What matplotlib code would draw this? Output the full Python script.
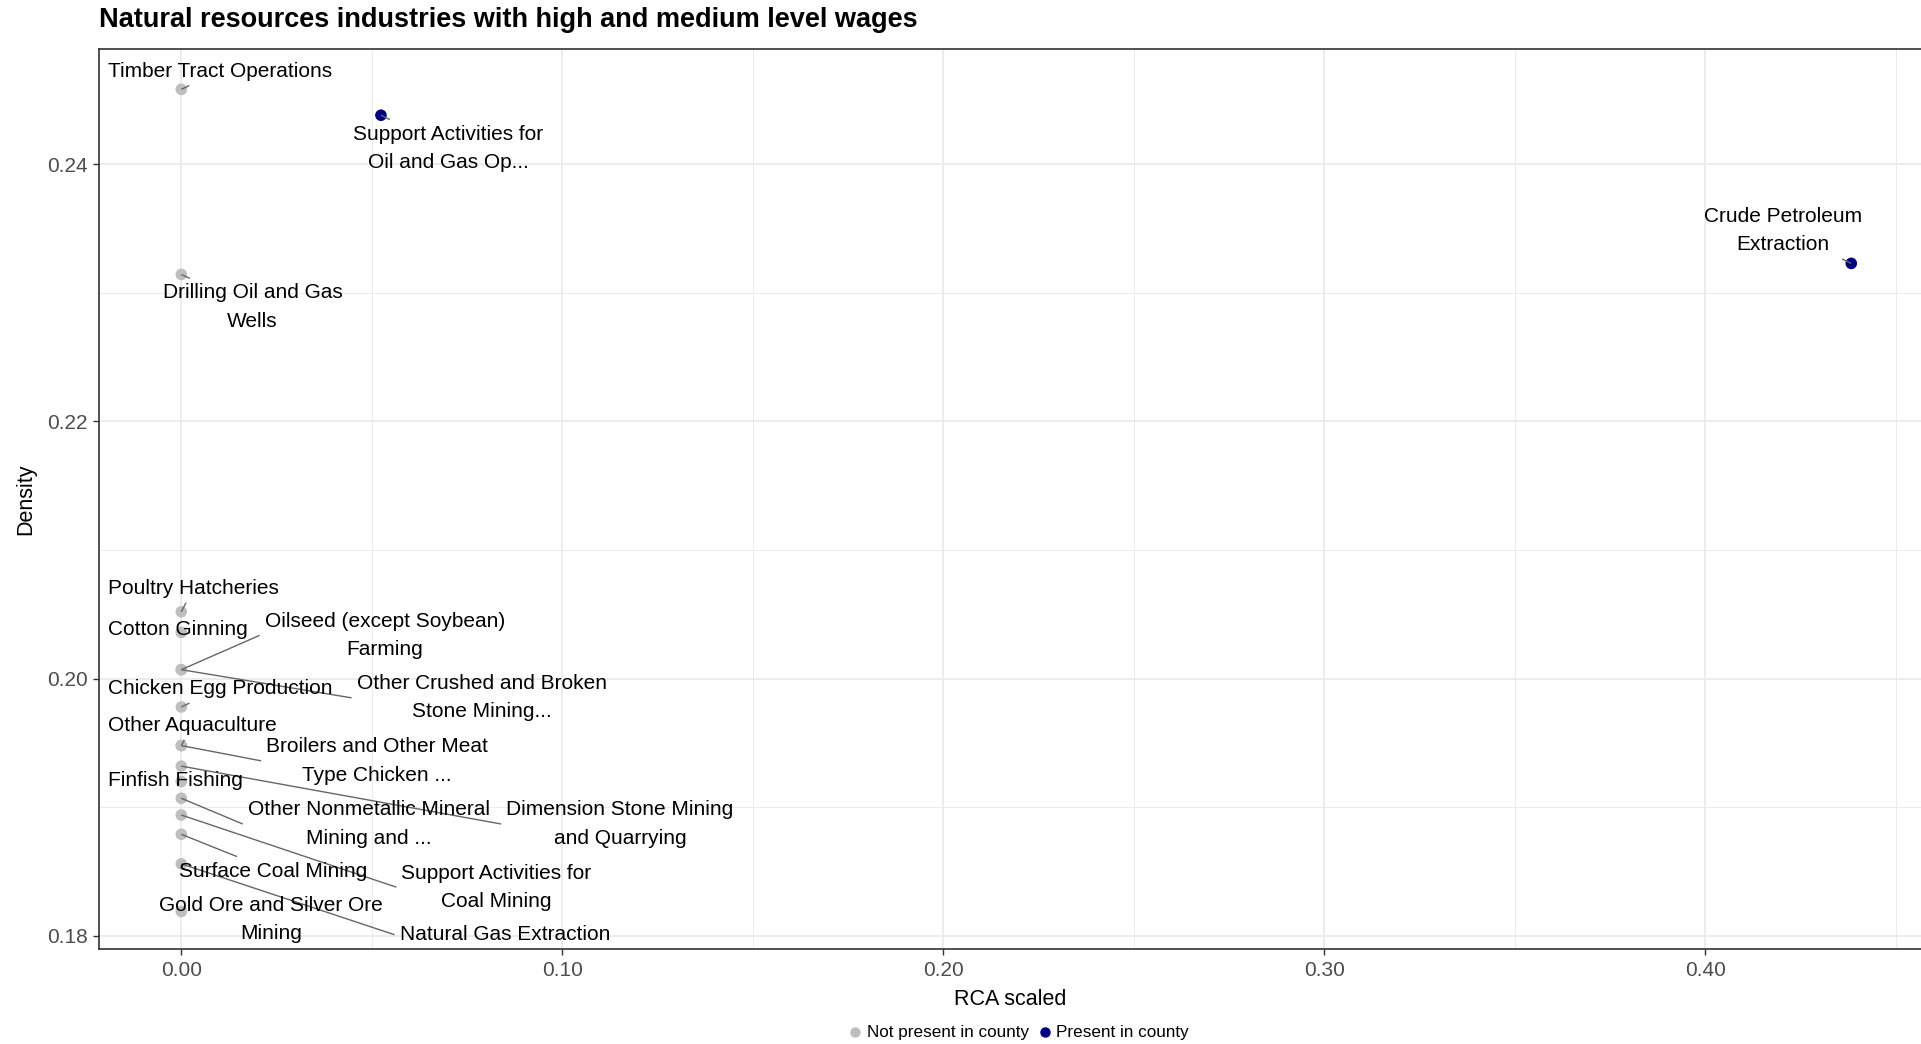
import matplotlib
matplotlib.use("Agg")
import matplotlib.pyplot as plt
from matplotlib.lines import Line2D
from matplotlib.ticker import MultipleLocator
import numpy as np

# ---------------- data ----------------
labels = [
    "Timber Tract Operations",
    "Support Activities for\nOil and Gas Op...",
    "Drilling Oil and Gas\nWells",
    "Crude Petroleum\nExtraction",
    "Poultry Hatcheries",
    "Cotton Ginning",
    "Oilseed (except Soybean)\nFarming",
    "Other Crushed and Broken\nStone Mining...",
    "Chicken Egg Production",
    "Other Aquaculture",
    "Broilers and Other Meat\nType Chicken ...",
    "Dimension Stone Mining\nand Quarrying",
    "Finfish Fishing",
    "Other Nonmetallic Mineral\nMining and ...",
    "Support Activities for\nCoal Mining",
    "Surface Coal Mining",
    "Natural Gas Extraction",
    "Gold Ore and Silver Ore\nMining",
]
rca_scaled = [0.0, 0.0524, 0.0, 0.4383, 0.0, 0.0, 0.0, 0.0, 0.0, 0.0,
              0.0, 0.0, 0.0, 0.0, 0.0, 0.0, 0.0, 0.0]
density = [0.24582, 0.24381, 0.23143, 0.23229, 0.2052, 0.2036, 0.2007, 0.2007,
           0.1978, 0.1948, 0.1948, 0.1932, 0.1920, 0.1907, 0.1894, 0.1879,
           0.1856, 0.1819]
present = [False, True, False, True, False, False, False, False, False, False,
           False, False, False, False, False, False, False, False]
legend_labels = ["Not present in county", "Present in county"]
x_ticks = [0.0, 0.1, 0.2, 0.3, 0.4]
y_ticks = [0.18, 0.20, 0.22, 0.24]

# label positions (layout, as placed by the repel algorithm in the original)
label_pos = {
    "Timber Tract Operations": (0.0101, 0.24724),
    "Support Activities for\nOil and Gas Op...": (0.0701, 0.24124),
    "Drilling Oil and Gas\nWells": (0.0187, 0.22890),
    "Crude Petroleum\nExtraction": (0.4203, 0.23486),
    "Poultry Hatcheries": (0.0032, 0.20704),
    "Cotton Ginning": (-0.0010, 0.20380),
    "Oilseed (except Soybean)\nFarming": (0.0534, 0.20337),
    "Other Crushed and Broken\nStone Mining...": (0.0788, 0.19851),
    "Chicken Egg Production": (0.0101, 0.19923),
    "Other Aquaculture": (0.0029, 0.19637),
    "Broilers and Other Meat\nType Chicken ...": (0.0514, 0.19361),
    "Dimension Stone Mining\nand Quarrying": (0.1151, 0.18870),
    "Finfish Fishing": (-0.0016, 0.19208),
    "Other Nonmetallic Mineral\nMining and ...": (0.0492, 0.18870),
    "Support Activities for\nCoal Mining": (0.0827, 0.18379),
    "Surface Coal Mining": (0.0241, 0.18504),
    "Natural Gas Extraction": (0.0849, 0.18009),
    "Gold Ore and Silver Ore\nMining": (0.0235, 0.18128),
}

# ---------------- style ----------------
plt.rcParams["font.family"] = ["Liberation Sans", "DejaVu Sans"]
GREY_PT = "#BEBEBE"
NAVY = "#000080"

fig = plt.figure(figsize=(19.21, 10.44), dpi=100)
ax = fig.add_axes([99 / 1921, 1 - 949.4 / 1044, 1 - 99 / 1921, (949.4 - 49) / 1044])

ax.set_xlim(-0.0216, 0.4566)
ax.set_ylim(0.17895, 0.24896)

ax.xaxis.set_minor_locator(MultipleLocator(0.05))
ax.yaxis.set_minor_locator(MultipleLocator(0.01))
ax.set_xticks(x_ticks)
ax.set_yticks(y_ticks)
ax.set_xticklabels([f"{v:.2f}" for v in x_ticks])
ax.set_yticklabels([f"{v:.2f}" for v in y_ticks])

ax.grid(True, which="major", color="#EBEBEB", lw=1.3, zorder=0)
ax.grid(True, which="minor", color="#EBEBEB", lw=0.7, zorder=0)
ax.set_axisbelow(True)
ax.tick_params(which="minor", length=0)
ax.tick_params(which="major", length=4, width=1.0, color="#333333",
               labelsize=15, labelcolor="#4D4D4D", pad=4)
for s in ax.spines.values():
    s.set_color("#333333")
    s.set_linewidth(1.2)
ax.spines["right"].set_visible(False)

ax.set_xlabel("RCA scaled", fontsize=15.5, labelpad=7)
ax.set_ylabel("Density", fontsize=15.5, labelpad=8)

colors = [NAVY if p else GREY_PT for p in present]
ax.scatter(rca_scaled, density, s=70, c=colors, zorder=3, linewidths=0)

texts = []
for lab in labels:
    lx, ly = label_pos[lab]
    t = ax.text(lx, ly, lab, ha="center", va="center", fontsize=15,
                linespacing=1.62, color="black", zorder=5, multialignment="center")
    texts.append(t)

fig.canvas.draw()
renderer = fig.canvas.get_renderer()
pad = 5
inv = ax.transData.inverted()
for t, x, y in zip(texts, rca_scaled, density):
    bb = t.get_window_extent(renderer)
    x0, y0, x1, y1 = bb.x0 - pad, bb.y0 - pad, bb.x1 + pad, bb.y1 + pad
    px, py = ax.transData.transform((x, y))
    cx, cy = (x0 + x1) / 2, (y0 + y1) / 2
    if x0 <= px <= x1 and y0 <= py <= y1:
        continue
    if px < x0:
        ex, ey = x0, cy
    elif px > x1:
        ex, ey = x1, cy
    else:
        dx, dy = cx - px, cy - py
        edge_y = y1 if py > y1 else y0
        tt = (edge_y - py) / dy
        ex, ey = px + tt * dx, edge_y
    if np.hypot(ex - px, ey - py) < 6:
        continue
    (dx0, dy0), (dx1, dy1) = inv.transform([(px, py), (ex, ey)])
    ax.plot([dx0, dx1], [dy0, dy1], color="#666666", lw=1.0, zorder=4,
            solid_capstyle="butt")

fig.text(99 / 1921, 1 - 20 / 1044,
         "Natural resources industries with high and medium level wages",
         fontsize=19.5, fontweight="bold", ha="left", va="center")

handles = [Line2D([], [], marker="o", ls="", color=GREY_PT, markersize=6.5),
           Line2D([], [], marker="o", ls="", color=NAVY, markersize=6.5)]
fig.legend(handles, legend_labels, loc="center", ncol=2, frameon=False,
           bbox_to_anchor=(1017 / 1921, 1 - 1033 / 1044), fontsize=12.3,
           handletextpad=0.1, columnspacing=0.3, handlelength=1.2,
           borderaxespad=0, borderpad=0)

fig.savefig("out.png", dpi=100)
